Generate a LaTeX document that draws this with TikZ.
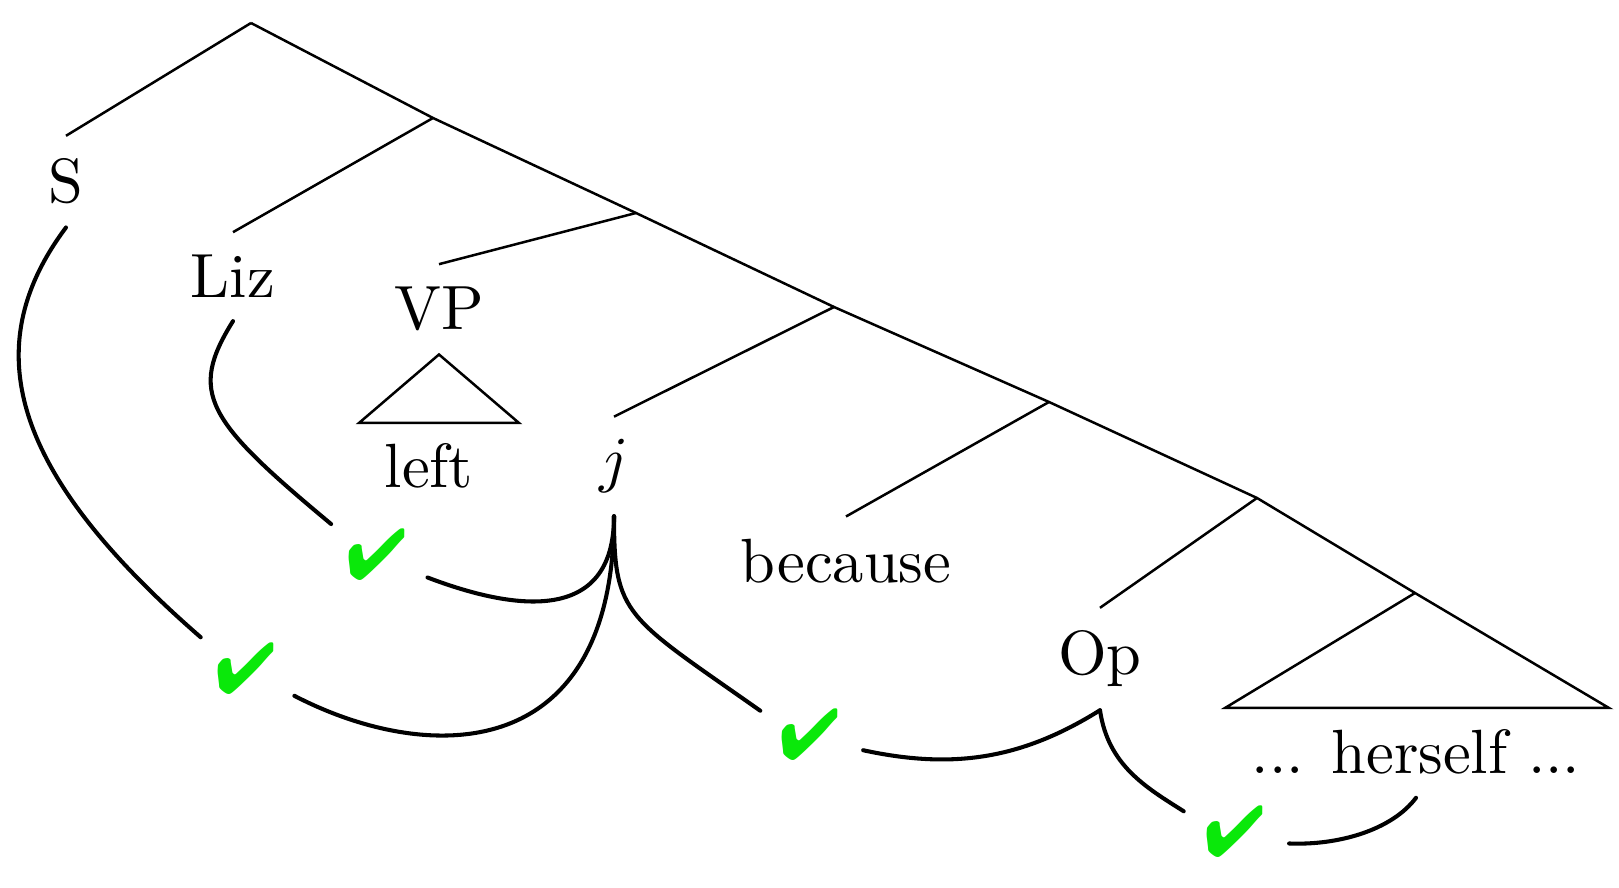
\documentclass[tikz,border=0pt]{standalone}
\usepackage{pifont}
\definecolor{tickgreen}{RGB}{10,232,10}
\begin{document}
\begin{tikzpicture}[x=0.16pt, y=-0.16pt,
  tree/.style={line width=0.4pt},
  link/.style={line width=0.65pt, line cap=round},
  lbl/.style={inner sep=0pt, outer sep=3.7pt, anchor=base, font=\fontsize{10}{12}\selectfont},
  tick/.style={circle, inner sep=0pt, minimum size=17.3pt, text=tickgreen, font=\fontsize{11.5}{13}\selectfont}]
\useasboundingbox (0,0) rectangle (1619,888);

% labels of the tree
\node[lbl] (S) at (66,203) {S};
\node[lbl] (Liz) at (233,298) {Liz};
\node[lbl] (VP) at (439,330) {VP};
\node[lbl] (left) at (429,488) {left};
\node[lbl] (j) at (614,481) {$j$};
\node[lbl] (because) at (846,583) {because};
\node[lbl] (Op) at (1100,675) {Op};
\node[lbl] (herself) at (1416,774) {... herself ...};

% check marks on the dependency arcs
\node[tick] (c1) at (377,555) {\ding{52}};
\node[tick] (c2) at (246,669) {\ding{52}};
\node[tick] (c3) at (810,735) {\ding{52}};
\node[tick] (c4) at (1235,832) {\ding{52}};

% branching points of the spine
\coordinate (r) at (251,23);
\coordinate (b1) at (433,118);
\coordinate (b2) at (636,213);
\coordinate (b3) at (834,307);
\coordinate (b4) at (1049,402);
\coordinate (b5) at (1257,498);
\coordinate (b6) at (1415,593);
\coordinate (tL) at (1225,708);
\coordinate (tR) at (1609,708);
\coordinate (vL) at (359,423);
\coordinate (vR) at (519,423);

% tree
\draw[tree] (r) -- (b1) -- (b2) -- (b3) -- (b4) -- (b5) -- (b6) -- (tR) -- (tL) -- (b6);
\draw[tree] (r) -- (S.north);
\draw[tree] (b1) -- (Liz.north);
\draw[tree] (b2) -- (VP.north);
\draw[tree] (b3) -- (j.north);
\draw[tree] (b4) -- (because.north);
\draw[tree] (b5) -- (Op.north);
\draw[tree] (VP.south) -- (vR) -- (vL) -- cycle;

% binding arcs
\draw[link] (S.south) .. controls +(-93,124) and +(-184,-160) .. (c2.145);
\draw[link] (c2.-29) .. controls +(133,69) and +(0,250) .. (j.south);
\draw[link] (Liz.south) .. controls +(-45,72) and +(-125,-104) .. (c1.146);
\draw[link] (c1.-24) .. controls +(84,32) and +(0,110) .. (j.south);
\draw[link] (j.south) .. controls +(0,100) and +(-135,-95) .. (c3.154);
\draw[link] (c3.-16) .. controls +(88,19) and +(-80,50) .. (Op.south);
\draw[link] (Op.south) .. controls +(8,55) and +(-38,-24) .. (c4.158);
\draw[link] (c4.-12) .. controls +(50,2) and +(-24,32) .. (herself.south);
\end{tikzpicture}
\end{document}
